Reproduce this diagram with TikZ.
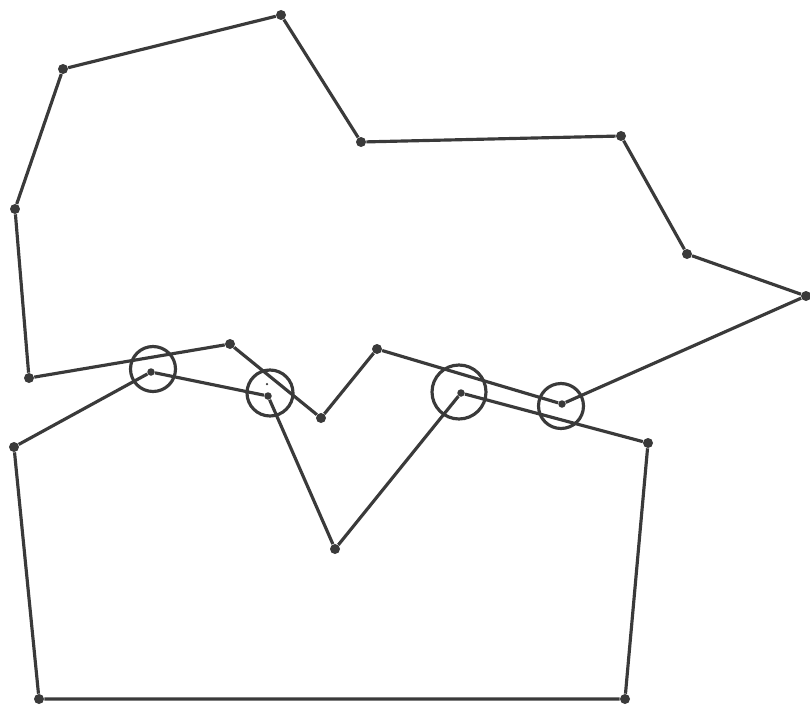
\documentclass[tikz,border=0pt]{standalone}
\usepackage{xcolor}
\usepackage{tikz}
\usetikzlibrary{positioning}
\definecolor{PenGrey}{RGB}{58,58,58}

\begin{document}
\begin{tikzpicture}[x=0.02cm, y=-0.02cm,
            vtx/.style={circle, fill=PenGrey, inner sep=0pt, minimum size=0.2cm},
            ring/.style={circle, draw=PenGrey, line width=1.8pt, inner sep=0pt,
                         minimum size=0.9cm},
            edge/.style={PenGrey, line width=1.8pt, line join=round}
          ]
          \useasboundingbox (0,0) rectangle (810,706);
          % upper polygon
          \node[vtx] (u1)  at (29,378)  {};
          \node[vtx] (u2)  at (15,209)  {};
          \node[vtx] (u3)  at (63,69)   {};
          \node[vtx] (u4)  at (281,15)  {};
          \node[vtx] (u5)  at (361,142) {};
          \node[vtx] (u6)  at (621,136) {};
          \node[vtx] (u7)  at (687,254) {};
          \node[vtx] (u8)  at (806,296) {};
          \node[vtx, minimum size=0.15cm] (u9)  at (562,404) {};
          \node[vtx] (u10) at (377,349) {};
          \node[vtx] (u11) at (321,418) {};
          \node[vtx] (u12) at (230,344) {};
          % lower polygon
          \node[vtx] (l1) at (14,447)  {};
          \node[vtx, minimum size=0.15cm] (l2) at (151,372) {};
          \node[vtx, minimum size=0.15cm] (l3) at (268,396) {};
          \node[vtx] (l4) at (335,549) {};
          \node[vtx, minimum size=0.15cm] (l5) at (461,393) {};
          \node[vtx] (l6) at (648,443) {};
          \node[vtx] (l7) at (625,699) {};
          \node[vtx] (l8) at (39,699)  {};
          % near crossings
          \node[ring] (c1) at (153,369) {};
          \node[ring, minimum size=0.92cm] (c2) at (270,393) {};
          \node[ring, minimum size=1.08cm] (c3) at (459,392) {};
          \node[ring] (c4) at (561,406) {};
          \node[vtx, minimum size=0.05cm] (s2) at (267,384) {};

          \draw[edge] (u1) -- (u2) -- (u3) -- (u4) -- (u5) -- (u6) -- (u7) -- (u8);
          \draw[edge] (u8) -- (u9) -- (u10) -- (u11) -- (u12) -- (u1);
          \draw[edge] (l1) -- (l2) -- (l3) -- (l4) -- (l5) -- (l6);
          \draw[edge] (l6) -- (l7) -- (l8) -- (l1);
        \end{tikzpicture}
\end{document}
